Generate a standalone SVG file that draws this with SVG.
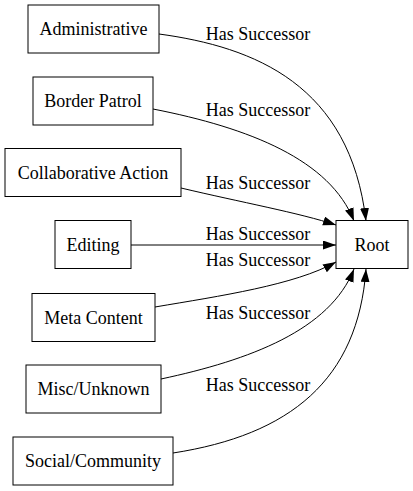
<svg xmlns="http://www.w3.org/2000/svg" width="413" height="491" viewBox="0 0 413 491">
<style>
.n rect{fill:#fff;stroke:#000;stroke-width:1}
text{font-family:"Liberation Serif","DejaVu Serif","Times New Roman",serif;font-size:18px;fill:#000}
.n text{text-anchor:middle}
.l{text-anchor:middle}
.e path{fill:none;stroke:#000;stroke-width:1;marker-end:url(#ah)}
</style>
<defs>
<marker id="ah" markerUnits="userSpaceOnUse" markerWidth="14" markerHeight="10" refX="13" refY="4.5" orient="auto"><path d="M0,0 L13,4.5 L0,9 z" fill="#000"/></marker>
</defs>
<rect width="413" height="491" fill="#fff"/>
<g id="edges" class="e" font-family="Liberation Serif, serif">
<path d="M159,34 C255,47 350,85 366,221"/>
<path d="M153,109 C250,128 330,160 354,221"/>
<path d="M181,188 C240,202 300,213 336,225"/>
<path d="M131,245 L336,245"/>
<path d="M155,307 C220,296 295,285 336,262"/>
<path d="M161,379 C250,360 330,330 354,269"/>
<path d="M173,453 C290,435 358,380 366,269"/>
<text class="l" x="258" y="40">Has Successor</text>
<text class="l" x="258" y="116">Has Successor</text>
<text class="l" x="258" y="189">Has Successor</text>
<text class="l" x="258" y="240">Has Successor</text>
<text class="l" x="258" y="266">Has Successor</text>
<text class="l" x="258" y="319">Has Successor</text>
<text class="l" x="258" y="391">Has Successor</text>
</g>
<g id="administrative" class="n"><rect x="28" y="5" width="131" height="48"/><text x="93.5" y="35">Administrative</text></g>
<g id="border_patrol" class="n"><rect x="33" y="77" width="120" height="48"/><text x="93" y="107">Border Patrol</text></g>
<g id="collaborative_action" class="n"><rect x="5" y="148.5" width="176" height="48"/><text x="93" y="178.5">Collaborative Action</text></g>
<g id="editing" class="n"><rect x="55" y="220.5" width="76" height="48"/><text x="93" y="250.5">Editing</text></g>
<g id="root" class="n"><rect x="336" y="220.5" width="72" height="48"/><text x="372" y="250.5">Root</text></g>
<g id="meta_content" class="n"><rect x="32" y="293.5" width="123" height="48"/><text x="93.5" y="323.5">Meta Content</text></g>
<g id="misc_unknown" class="n"><rect x="26" y="365" width="135" height="48"/><text x="93.5" y="395">Misc/Unknown</text></g>
<g id="social_community" class="n"><rect x="13" y="437" width="160" height="48"/><text x="93" y="467">Social/Community</text></g>
</svg>
